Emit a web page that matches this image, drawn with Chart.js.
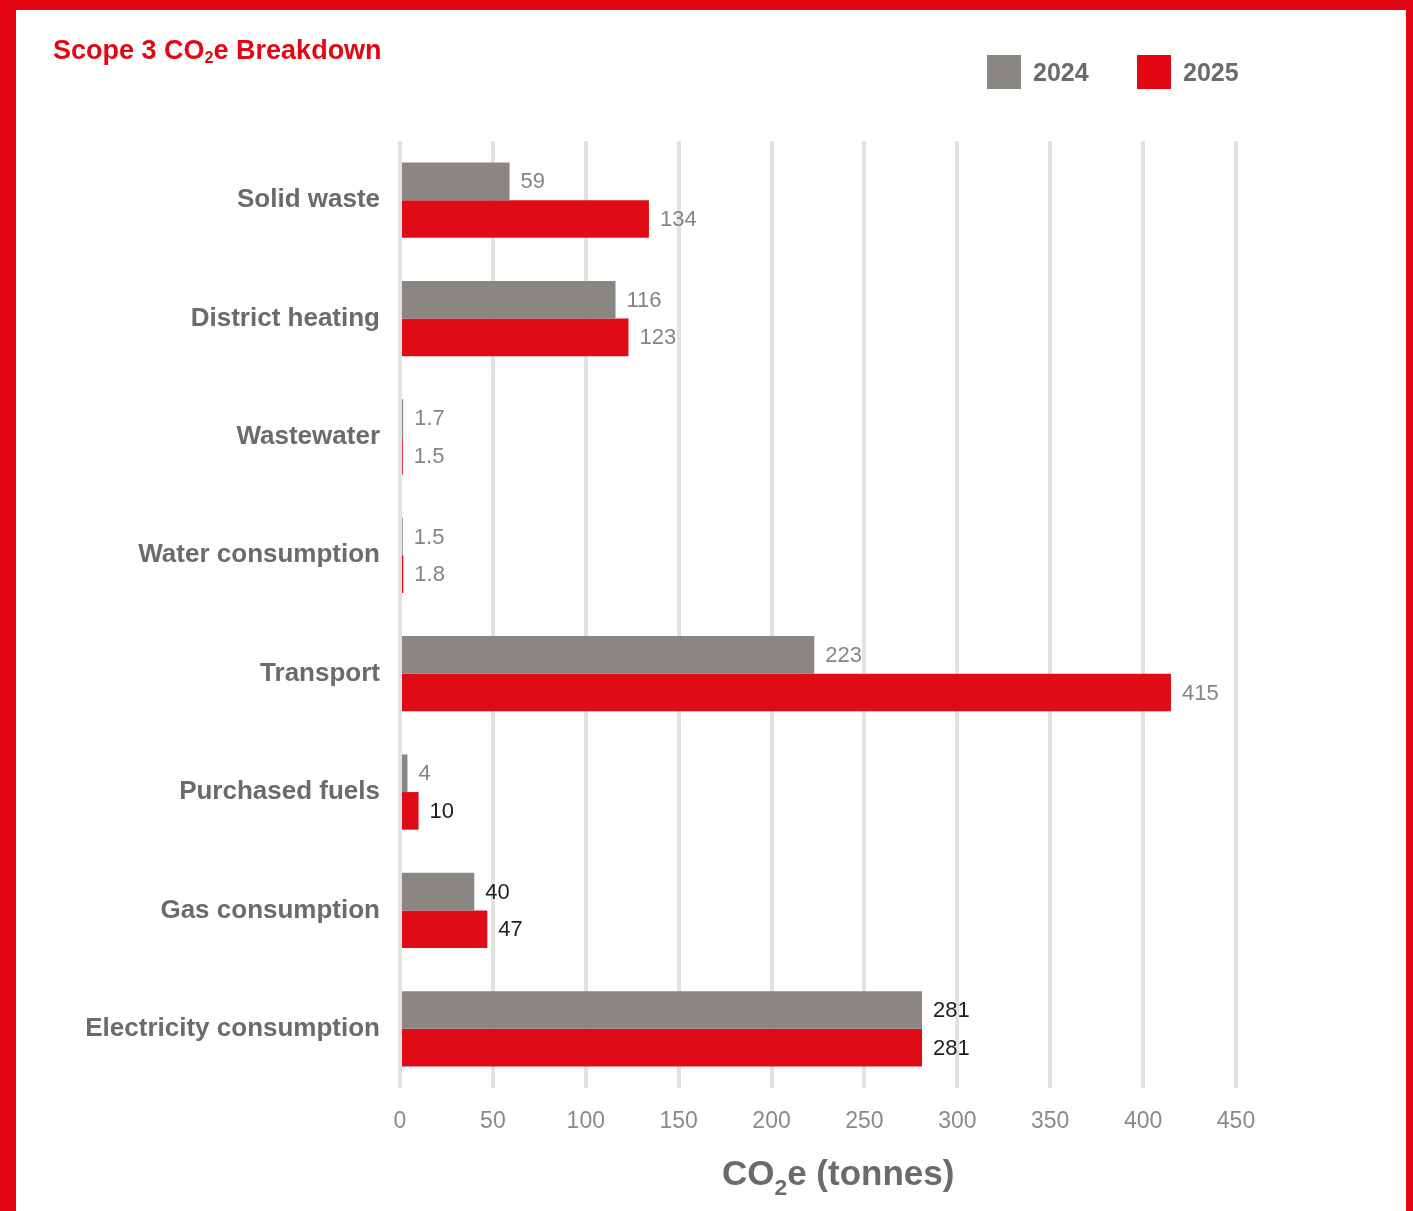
<!DOCTYPE html>
<html>
<head>
<meta charset="utf-8">
<script src="https://cdn.jsdelivr.net/npm/chart.js@4"></script>
<style>
  html, body { margin: 0; padding: 0; background: #fff; }
  body { width: 1413px; height: 1211px; position: relative; overflow: hidden;
         font-family: "Liberation Sans", Arial, sans-serif; }
  #frame { position: absolute; left: 0; top: 0; width: 1413px; height: 1211px; box-sizing: border-box;
           border-top: 10px solid #e30613; border-left: 16px solid #e30613; border-right: 7px solid #e30613; }
  #chart { position: absolute; left: 0; top: 0; }
  .title { position: absolute; left: 53px; top: 35px; font-size: 27px; font-weight: bold; color: #e30613; }
  .title sub, .axis-title sub { font-size: 0.6em; vertical-align: -0.25em; line-height: 0; }
  .legend { position: absolute; top: 55px; display: flex; align-items: center; }
  .legend span.box { width: 34px; height: 34px; display: inline-block; margin-right: 12px; }
  .legend span.txt { font-size: 25px; font-weight: bold; color: #6b6b6b; }
  .axis-title { position: absolute; left: 722px; top: 1153px; font-size: 35px; font-weight: bold; color: #6b6b6b; }
  .axis-title sub { font-size: 0.65em; vertical-align: -0.45em; }
</style>
</head>
<body>
<div id="frame"></div>
<canvas id="chart" width="1413" height="1211"></canvas>
<div class="title">Scope 3 CO<sub>2</sub>e Breakdown</div>
<div class="legend" style="left:987px"><span class="box" style="background:#8a8682"></span><span class="txt">2024</span></div>
<div class="legend" style="left:1137px"><span class="box" style="background:#e30613"></span><span class="txt">2025</span></div>
<div class="axis-title">CO<sub>2</sub>e (tonnes)</div>

<script>
const categories = ['Solid waste', 'District heating', 'Wastewater', 'Water consumption',
                    'Transport', 'Purchased fuels', 'Gas consumption', 'Electricity consumption'];
const values2024 = [59, 116, 1.7, 1.5, 223, 4, 40, 281];
const values2025 = [134, 123, 1.5, 1.8, 415, 10, 47, 281];
const xTicks = [0, 50, 100, 150, 200, 250, 300, 350, 400, 450];

// labels printed in near-black in the source, rest are grey
const darkLabels2024 = [6, 7];
const darkLabels2025 = [5, 6, 7];

const FONT = "'Liberation Sans', Arial, sans-serif";

// Plugin: value labels just past the end of each bar
const valueLabelPlugin = {
  id: 'valueLabels',
  afterDatasetsDraw(chart) {
    const ctx = chart.ctx;
    ctx.save();
    ctx.font = `22px ${FONT}`;
    ctx.textAlign = 'left';
    ctx.textBaseline = 'middle';
    chart.data.datasets.forEach((ds, di) => {
      const meta = chart.getDatasetMeta(di);
      const dark = di === 0 ? darkLabels2024 : darkLabels2025;
      meta.data.forEach((bar, i) => {
        ctx.fillStyle = dark.includes(i) ? '#1e1e1e' : '#858585';
        ctx.fillText(String(ds.data[i]), bar.x + 11, bar.y + 1);
      });
    });
    ctx.restore();
  }
};

new Chart(document.getElementById('chart'), {
  type: 'bar',
  data: {
    labels: categories,
    datasets: [
      { label: '2024', data: values2024, backgroundColor: '#8a8682' },
      { label: '2025', data: values2025, backgroundColor: '#df0c17' },
    ]
  },
  plugins: [valueLabelPlugin],
  options: {
    indexAxis: 'y',
    responsive: false,
    animation: false,
    categoryPercentage: 0.636,
    barPercentage: 1,
    layout: { padding: { top: 141, right: 177, left: 0, bottom: 0 } },
    scales: {
      x: {
        min: 0,
        max: 450,
        afterBuildTicks(scale) { scale.ticks = xTicks.map(v => ({ value: v })); },
        afterFit(scale) { scale.height = 123; },
        ticks: {
          color: '#8a8a8a',
          padding: 20,
          font: { family: FONT, size: 23 },
        },
        grid: { color: '#e2e2e2', lineWidth: 4, drawTicks: false },
        border: { display: false },
      },
      y: {
        afterFit(scale) { scale.width = 400; },
        ticks: {
          color: '#6b6b6b',
          padding: 20,
          font: { family: FONT, size: 26, weight: 'bold' },
        },
        grid: { display: false, drawTicks: false },
        border: { display: false },
      }
    },
    plugins: {
      legend: { display: false },
      tooltip: { enabled: false },
    }
  }
});
</script>
</body>
</html>
